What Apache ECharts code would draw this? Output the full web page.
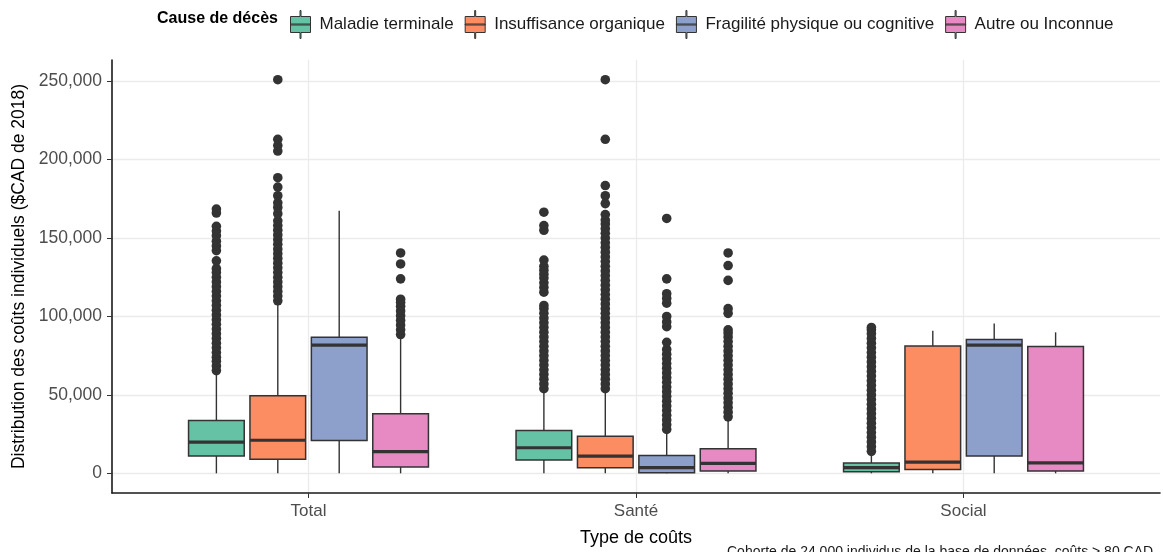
<!DOCTYPE html>
<html>
<head>
<meta charset="utf-8">
<script src="https://cdn.jsdelivr.net/npm/echarts@6/dist/echarts.min.js"></script>
<style>
html, body { margin: 0; padding: 0; background: #fff; }
#chart { width: 1163px; height: 552px; }
</style>
</head>
<body>
<div id="chart"></div>
<script>
var categories = ['Total', 'Santé', 'Social'];
var causes = ['Maladie terminale', 'Insuffisance organique', 'Fragilité physique ou cognitive', 'Autre ou Inconnue'];
var colors = ['#66c2a5', '#fc8d62', '#8da0cb', '#e78ac3'];
var yTicks = [0, 50000, 100000, 150000, 200000, 250000];

// box stats per type of cost: [min, Q1, median, Q3, max]
var maladieBox = [[0, 11000, 19900, 33600, 64500], [0, 8500, 16300, 27300, 53300], [0, 1000, 3600, 6600, 13100]];
var insuffBox = [[0, 8900, 21100, 49500, 108300], [0, 3600, 11000, 23700, 52900], [0, 2500, 7200, 81200, 90900]];
var fragBox = [[0, 20900, 81800, 86700, 167500], [0, 400, 3600, 11400, 26800], [0, 11000, 81800, 85400, 95600]];
var autreBox = [[0, 4000, 13800, 38000, 87100], [0, 1500, 6300, 15700, 35300], [0, 1500, 6600, 80800, 89900]];

// outliers per type of cost (Total, Santé, Social)
var maladieOut = [
  [65500, 68500, 71500, 74000, 77000, 80000, 83000, 86000, 89000, 92000, 95000, 98000, 101000, 104000, 107000,
   110000, 113000, 116000, 119000, 122000, 125000, 128000, 130500, 135500, 142000, 145000, 148000, 151500, 154500,
   157500, 166000, 168500],
  [54000, 57000, 60000, 63000, 66000, 69000, 72000, 75000, 78000, 81000, 84000, 87000, 90000, 93000, 96000, 99000,
   102000, 105000, 107000, 115500, 118500, 121500, 124500, 127000, 129500, 132000, 136000, 155000, 158000, 166500],
  [14000, 17000, 20000, 23000, 26000, 29000, 32000, 35000, 38000, 41000, 44000, 47000, 50000, 53000, 56000, 59000,
   62000, 65000, 68000, 71000, 74000, 77000, 80000, 83000, 86000, 89000, 91500, 93000]
];
var insuffOut = [
  [110000, 113000, 116000, 119000, 122000, 125000, 128000, 131000, 134000, 137000, 140000, 143000, 146000, 149000,
   152000, 155000, 158000, 161000, 165500, 169500, 172500, 177000, 182500, 188500, 205500, 209000, 213000, 251000],
  [54000, 57000, 60000, 63000, 66000, 69000, 72000, 75000, 78000, 81000, 84000, 87000, 90000, 93000, 96000, 99000,
   102000, 105000, 108000, 111000, 114000, 117000, 120000, 123000, 126000, 129000, 132000, 135000, 138000, 141000,
   144000, 147000, 150000, 153000, 156000, 159000, 161500, 165000, 172000, 177000, 183500, 213000, 251000],
  []
];
var fragOut = [
  [],
  [28000, 31000, 34000, 37000, 40000, 43000, 46000, 49000, 52000, 55000, 58000, 61000, 64000, 67000, 70000, 73000,
   76000, 79000, 83500, 93500, 96500, 100000, 108500, 111500, 114500, 124000, 162500],
  []
];
var autreOut = [
  [88500, 91500, 94500, 97500, 100500, 103500, 106500, 109000, 111000, 124000, 133500, 140500],
  [36000, 39000, 42000, 45000, 48000, 51000, 54000, 57000, 60000, 63000, 66000, 69000, 72000, 75000, 78000, 81000,
   84000, 87000, 89500, 91500, 102000, 105000, 123000, 132500, 140500],
  []
];

var boxes = [maladieBox, insuffBox, fragBox, autreBox];
var outliers = [maladieOut, insuffOut, fragOut, autreOut];

var dodge = 0.1875;
var boxW = 0.17;

function renderBox(offset, color) {
  return function (params, api) {
    var x = api.value(0) + offset;
    var pMin = api.coord([x, api.value(1)]);
    var pQ1 = api.coord([x, api.value(2)]);
    var pMed = api.coord([x, api.value(3)]);
    var pQ3 = api.coord([x, api.value(4)]);
    var pMax = api.coord([x, api.value(5)]);
    var hw = api.size([boxW, 0])[0] / 2;
    return {
      type: 'group',
      children: [
        { type: 'line', shape: { x1: pMin[0], y1: pMin[1], x2: pQ1[0], y2: pQ1[1] }, style: { stroke: '#333', lineWidth: 1.4 } },
        { type: 'line', shape: { x1: pQ3[0], y1: pQ3[1], x2: pMax[0], y2: pMax[1] }, style: { stroke: '#333', lineWidth: 1.4 } },
        { type: 'rect', shape: { x: pQ3[0] - hw, y: pQ3[1], width: hw * 2, height: pQ1[1] - pQ3[1] },
          style: { fill: color, stroke: '#333', lineWidth: 1.5 } },
        { type: 'line', shape: { x1: pMed[0] - hw, y1: pMed[1], x2: pMed[0] + hw, y2: pMed[1] }, style: { stroke: '#333', lineWidth: 3.2 } }
      ]
    };
  };
}

function renderDot(offset) {
  return function (params, api) {
    var p = api.coord([api.value(0) + offset, api.value(1)]);
    return { type: 'circle', shape: { cx: p[0], cy: p[1], r: 4.8 }, style: { fill: '#333' } };
  };
}

var series = [];
causes.forEach(function (name, i) {
  var offset = (i - 1.5) * dodge;
  series.push({
    name: name,
    type: 'custom',
    itemStyle: { color: colors[i] },
    renderItem: renderBox(offset, colors[i]),
    encode: { x: 0, y: [1, 2, 3, 4, 5] },
    data: boxes[i].map(function (s, c) { return [c].concat(s); }),
    z: 3
  });
});
causes.forEach(function (name, i) {
  var offset = (i - 1.5) * dodge;
  var pts = [];
  outliers[i].forEach(function (vals, c) {
    vals.forEach(function (v) { pts.push([c, v]); });
  });
  series.push({
    name: name,
    type: 'custom',
    itemStyle: { color: colors[i] },
    renderItem: renderDot(offset),
    encode: { x: 0, y: 1 },
    data: pts,
    z: 4
  });
});

var legendIcon = 'path://M9.5,0h1v6h9.5v16h-9.5v6h-1v-6h-9.5v-16h9.5zM0,13.5h20v1h-20z';

var chart = echarts.init(document.getElementById('chart'));
chart.setOption({
  animation: false,
  textStyle: { fontFamily: 'Liberation Sans, Arial, sans-serif' },
  graphic: [
    { type: 'text', left: 157, top: 11, style: { text: 'Cause de décès', font: 'bold 16px Liberation Sans', fill: '#000' } },
    { type: 'text', left: 727, top: 545, style: { text: 'Cohorte de 24 000 individus de la base de données, coûts > 80 CAD', font: '14px Liberation Sans', fill: '#1a1a1a' } }
  ],
  legend: {
    left: 285,
    top: 5,
    itemWidth: 20,
    itemHeight: 28,
    itemGap: 11,
    data: causes.map(function (n) { return { name: n, icon: legendIcon }; }),
    itemStyle: { borderColor: '#333', borderWidth: 1 },
    textStyle: { fontSize: 17, color: '#1a1a1a', padding: [0, 0, 0, 4] }
  },
  grid: { left: 112, right: 3, top: 60, bottom: 59 },
  xAxis: {
    type: 'value',
    min: -0.6,
    max: 2.6,
    name: 'Type de coûts',
    nameLocation: 'middle',
    nameGap: 36,
    nameTextStyle: { fontSize: 18, color: '#000' },
    axisLine: { show: true, onZero: false, lineStyle: { color: '#1a1a1a', width: 1.6 } },
    axisTick: { show: true, customValues: [0, 1, 2], length: 5, lineStyle: { color: '#333' } },
    axisLabel: {
      customValues: [0, 1, 2], fontSize: 17, color: '#4d4d4d', margin: 10,
      formatter: function (v) { return categories[Math.round(v)]; }
    },
    splitLine: { show: true, lineStyle: { color: '#ebebeb', width: 1.3 } }
  },
  yAxis: {
    type: 'value',
    min: -12550,
    max: 263550,
    name: 'Distribution des coûts individuels ($CAD de 2018)',
    nameLocation: 'middle',
    nameGap: 84,
    nameTextStyle: { fontSize: 17.5, color: '#000' },
    axisLine: { show: true, onZero: false, lineStyle: { color: '#1a1a1a', width: 1.6 } },
    axisTick: { show: true, customValues: yTicks, length: 5, lineStyle: { color: '#333' } },
    axisLabel: {
      customValues: yTicks, fontSize: 17.5, color: '#4d4d4d', margin: 10,
      formatter: function (v) { return v.toLocaleString('en-US'); }
    },
    splitLine: { show: true, lineStyle: { color: '#ebebeb', width: 1.3 } }
  },
  series: series
});
</script>
</body>
</html>
